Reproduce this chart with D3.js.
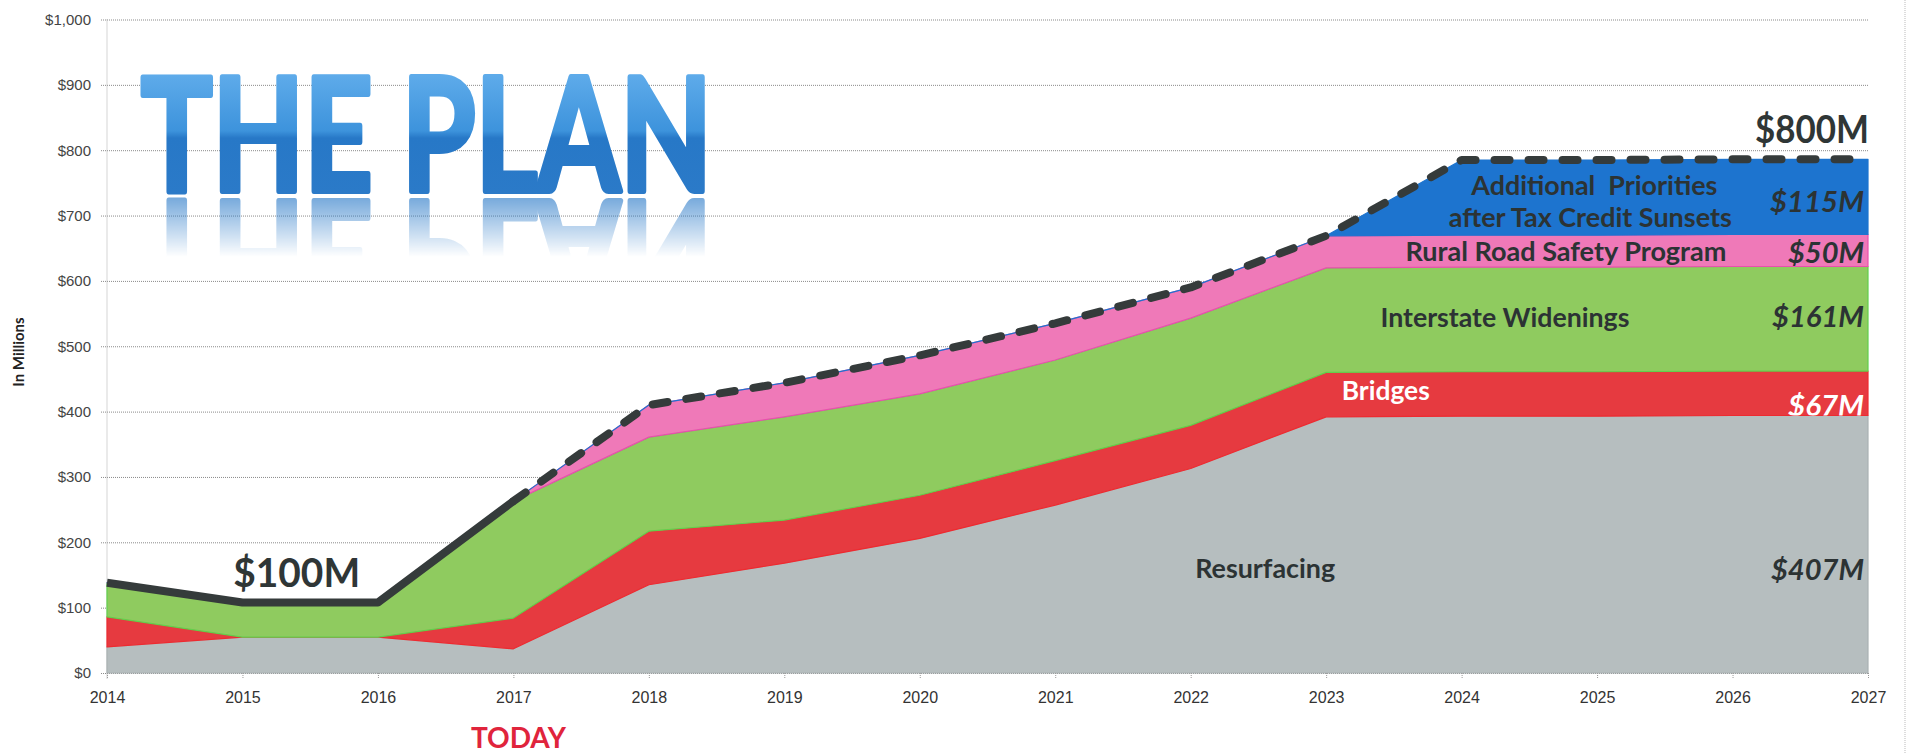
<!DOCTYPE html>
<html>
<head>
<meta charset="utf-8">
<script src="https://cdn.jsdelivr.net/npm/d3@7"></script>
<style>
  html, body { margin: 0; padding: 0; background: #fff; }
  svg { display: block; font-family: Lato, 'Open Sans', sans-serif; }
</style>
</head>
<body>
<svg id="chart" width="1908" height="753"></svg>
<script>
// values, $ millions
const years = [2014, 2015, 2016, 2017, 2018, 2019, 2020, 2021, 2022, 2023, 2024, 2025, 2026, 2027];
const resurfacing = [40, 55, 55, 37, 135, 168, 206, 257, 313, 392, 393, 393, 394, 394];
const bridges     = [46, 0, 0, 47, 82, 66, 66, 68, 66, 68, 68, 68, 68, 68];
const interstate  = [52, 53, 53, 179, 144, 158, 155, 154, 164, 160, 160, 160, 160, 160];
const rural       = [0, 0, 0, 0, 49, 52, 59, 56, 47, 49, 49, 49, 49, 49];
const additional  = [0, 0, 0, 0, 0, 0, 0, 0, 0, 0, 115, 115, 115, 115];
const yTicks = [0, 100, 200, 300, 400, 500, 600, 700, 800, 900, 1000];
const todayYear = 2017;

const keys = ['resurfacing', 'bridges', 'interstate', 'rural', 'additional'];
const colors = {
  resurfacing: '#b6bebf',
  bridges: '#e63a40',
  interstate: '#8fcb5f',
  rural: '#ef79b8',
  additional: '#1d74cf'
};
const edges = {
  resurfacing: '#aab2b3',
  bridges: '#ee2a30',
  interstate: '#62d04c',
  rural: '#e94fae',
  additional: '#1d74cf'
};

const table = years.map((yr, i) => ({
  year: yr,
  resurfacing: resurfacing[i],
  bridges: bridges[i],
  interstate: interstate[i],
  rural: rural[i],
  additional: additional[i]
}));

const svg = d3.select('#chart');
const plotLeft = 107, plotRight = 1868, plotTop = 19.5, plotBottom = 673;

const x = d3.scaleLinear().domain([2014, 2027]).range([plotLeft, plotRight]);
const y = d3.scaleLinear().domain([0, 1000]).range([plotBottom, plotTop]);

// frame line on the far right
svg.append('line')
  .attr('x1', 1905).attr('x2', 1905).attr('y1', 0).attr('y2', 753)
  .attr('stroke', '#bbb').attr('stroke-dasharray', '1,1');

// y axis with grid
const yAxis = svg.append('g')
  .attr('transform', `translate(${plotLeft - 6},0)`)
  .call(d3.axisLeft(y).tickValues(yTicks).tickFormat(d3.format('$,'))
    .tickSize(-(plotRight - plotLeft + 6)).tickPadding(10));
yAxis.select('.domain').remove();
yAxis.selectAll('.tick line')
  .attr('stroke', '#8a8a8a').attr('stroke-dasharray', '1,1');
yAxis.selectAll('.tick text')
  .attr('fill', '#444').style('font-size', '15px');

svg.append('line')
  .attr('x1', plotLeft).attr('x2', plotLeft).attr('y1', plotTop).attr('y2', plotBottom + 6)
  .attr('stroke', '#aaa').attr('stroke-dasharray', '1,1');

svg.append('text')
  .attr('transform', 'translate(24,352) rotate(-90)')
  .attr('text-anchor', 'middle')
  .style('font-size', '15px').style('font-weight', 'bold')
  .attr('fill', '#222')
  .text('In Millions');

// stacked areas
const stack = d3.stack().keys(keys);
const series = stack(table);

const area = d3.area()
  .x(d => x(d.data.year))
  .y0(d => y(d[0]))
  .y1(d => y(d[1]));

svg.append('g').selectAll('path')
  .data(series)
  .enter()
  .append('path')
  .attr('d', area)
  .attr('fill', d => colors[d.key])
  .attr('stroke', d => edges[d.key])
  .attr('stroke-width', 1.2)
  .attr('stroke-linejoin', 'round');

const defs = svg.append('defs');
defs.append('clipPath').attr('id', 'bridgeClip')
  .append('path').attr('d', area(series[1]));

// x axis
const xAxis = svg.append('g')
  .attr('transform', `translate(0,${plotBottom})`)
  .call(d3.axisBottom(x).tickValues(years).tickFormat(d3.format('d'))
    .tickSize(6).tickPadding(13));
xAxis.select('.domain').remove();
xAxis.selectAll('.tick line')
  .attr('stroke', '#999').attr('stroke-dasharray', '1,1');
xAxis.selectAll('.tick text')
  .attr('fill', '#333').style('font-size', '16px');

// total line: solid up to today, dashed after
const totals = table.map(d => ({ year: d.year, total: d3.sum(keys, k => d[k]) }));
const line = d3.line().x(d => x(d.year)).y(d => y(d.total));

svg.append('path')
  .attr('d', line(totals.filter(d => d.year <= todayYear)))
  .attr('fill', 'none')
  .attr('stroke', '#353b3b')
  .attr('stroke-width', 8)
  .attr('stroke-linejoin', 'round');

svg.append('path')
  .attr('d', line(totals.filter(d => d.year >= todayYear)))
  .attr('fill', 'none')
  .attr('stroke', '#353b3b')
  .attr('stroke-width', 8)
  .attr('stroke-linecap', 'round')
  .attr('stroke-linejoin', 'round')
  .attr('stroke-dasharray', '15 19');

// text annotations, placed in data space
const layerLabels = [
  { text: 'Additional  Priorities', year: 2024.98, value: 731, width: 246, fill: '#2c3334' },
  { text: 'after Tax Credit Sunsets', year: 2024.95, value: 682, width: 283, fill: '#2c3334' },
  { text: 'Rural Road Safety Program', year: 2024.77, value: 631, width: 321, fill: '#2c3334' },
  { text: 'Interstate Widenings', year: 2024.32, value: 530, width: 249, fill: '#2c3334' },
  { text: 'Bridges', year: 2023.44, value: 418, width: 88, fill: '#ffffff' },
  { text: 'Resurfacing', year: 2022.55, value: 145, width: 140, fill: '#2c3334' }
];

svg.append('g').selectAll('text')
  .data(layerLabels)
  .enter()
  .append('text')
  .attr('x', d => x(d.year))
  .attr('y', d => y(d.value))
  .attr('text-anchor', 'middle')
  .attr('textLength', d => d.width)
  .attr('lengthAdjust', 'spacingAndGlyphs')
  .style('white-space', 'pre')
  .style('font-size', '27px')
  .style('font-weight', 'bold')
  .attr('fill', d => d.fill)
  .text(d => d.text);

const amountLabels = [
  { text: '$115M', value: 706, width: 94, fill: '#2c3334' },
  { text: '$50M', value: 628, width: 76, fill: '#2c3334' },
  { text: '$161M', value: 530, width: 92, fill: '#2c3334' },
  { text: '$67M', value: 394, width: 76, fill: '#ffffff', clip: true },
  { text: '$407M', value: 142, width: 93, fill: '#2c3334' }
];

svg.append('g').selectAll('text')
  .data(amountLabels)
  .enter()
  .append('text')
  .attr('x', x(2027) - 4)
  .attr('y', d => y(d.value))
  .attr('text-anchor', 'end')
  .attr('textLength', d => d.width)
  .attr('lengthAdjust', 'spacingAndGlyphs')
  .attr('clip-path', d => d.clip ? 'url(#bridgeClip)' : null)
  .style('font-size', '29px')
  .style('font-weight', 'bold')
  .style('font-style', 'italic')
  .attr('fill', d => d.fill)
  .text(d => d.text);

svg.append('text')
  .attr('x', x(2015.4)).attr('y', y(131))
  .attr('text-anchor', 'middle')
  .attr('textLength', 127).attr('lengthAdjust', 'spacingAndGlyphs')
  .style('font-size', '41px').style('font-weight', 'bold')
  .attr('fill', '#2f3636')
  .text('$100M');

svg.append('text')
  .attr('x', x(2027) + 1).attr('y', y(811))
  .attr('text-anchor', 'end')
  .attr('textLength', 114).attr('lengthAdjust', 'spacingAndGlyphs')
  .style('font-size', '38px').style('font-weight', 'bold')
  .attr('fill', '#2f3636')
  .text('$800M');

svg.append('text')
  .attr('x', x(todayYear) + 5).attr('y', 748)
  .attr('text-anchor', 'middle')
  .attr('textLength', 95).attr('lengthAdjust', 'spacingAndGlyphs')
  .style('font-size', '28px').style('font-weight', 'bold')
  .attr('fill', '#e0243c')
  .text('TODAY');

// title with a glossy fill and a fading reflection
const titleBase = 191;
const tg = defs.append('linearGradient').attr('id', 'titleGrad')
  .attr('gradientUnits', 'userSpaceOnUse')
  .attr('x1', 0).attr('x2', 0).attr('y1', titleBase - 116).attr('y2', titleBase + 3);
tg.append('stop').attr('offset', '0%').attr('stop-color', '#5eabea');
tg.append('stop').attr('offset', '47%').attr('stop-color', '#3d93dc');
tg.append('stop').attr('offset', '53%').attr('stop-color', '#2778c7');
tg.append('stop').attr('offset', '100%').attr('stop-color', '#2b7ac8');

const mg = defs.append('linearGradient').attr('id', 'reflGrad')
  .attr('gradientUnits', 'userSpaceOnUse')
  .attr('x1', 0).attr('x2', 0).attr('y1', titleBase + 6).attr('y2', titleBase + 66);
mg.append('stop').attr('offset', '0%').attr('stop-color', '#fff').attr('stop-opacity', 0.65);
mg.append('stop').attr('offset', '100%').attr('stop-color', '#fff').attr('stop-opacity', 0);
defs.append('mask').attr('id', 'reflMask')
  .attr('maskUnits', 'userSpaceOnUse')
  .attr('x', 0).attr('y', 0).attr('width', 1908).attr('height', 753)
  .append('rect')
  .attr('x', 0).attr('y', titleBase + 6).attr('width', 900).attr('height', 62)
  .attr('fill', 'url(#reflGrad)');

svg.append('text')
  .attr('id', 'titleText')
  .attr('x', 141).attr('y', titleBase)
  .attr('textLength', 571).attr('lengthAdjust', 'spacingAndGlyphs')
  .style('font-size', '157px').style('font-weight', 'bold')
  .attr('fill', 'url(#titleGrad)')
  .attr('stroke', 'url(#titleGrad)').attr('stroke-width', 6)
  .attr('stroke-linejoin', 'round')
  .text('THE PLAN');

svg.append('g').attr('mask', 'url(#reflMask)')
  .append('use')
  .attr('href', '#titleText')
  .attr('transform', `translate(0,${2 * titleBase + 10}) scale(1,-1)`);
</script>
</body>
</html>
